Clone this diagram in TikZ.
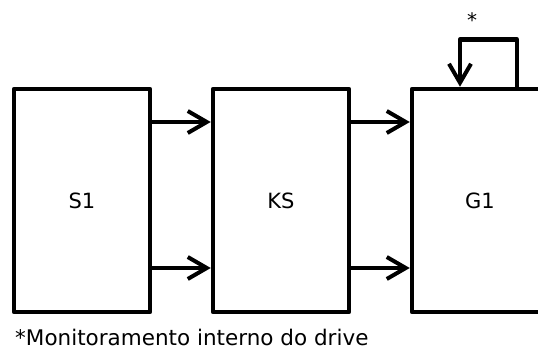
\documentclass[tikz,border=0pt]{standalone}
\usepackage{fontspec}
\setmainfont{DejaVu Sans}
\usetikzlibrary{arrows.meta,calc}
\begin{document}
\begin{tikzpicture}[x=1pt,y=-1pt,
  blockbox/.style={draw,line width=4.5pt,line join=round,minimum width=136pt,minimum height=223pt,inner sep=0pt,font=\fontsize{21}{25}\selectfont},
  conn/.style={line width=4.5pt,-{Straight Barb[length=19pt,width=22pt,line width=4pt]}}]
\useasboundingbox (0,0) rectangle (538,350);
\node[blockbox] (S1) at (82,200.5) {S1};
\node[blockbox] (KS) at (281,200.5) {KS};
\node[blockbox] (G1) at (480,200.5) {G1};
\draw[conn] ([yshift=78.5pt]S1.east) -- ([yshift=78.5pt]KS.west);
\draw[conn] ([yshift=-67.5pt]S1.east) -- ([yshift=-67.5pt]KS.west);
\draw[conn] ([yshift=78.5pt]KS.east) -- ([yshift=78.5pt]G1.west);
\draw[conn] ([yshift=-67.5pt]KS.east) -- ([yshift=-67.5pt]G1.west);
\coordinate (loopA) at ($(G1.north)+(37,0)$);
\coordinate (loopB) at ($(G1.north)+(-20,0)$);
\draw[conn,line join=round] (loopA) -- ++(0,-47) -| (loopB);
\node[font=\fontsize{20}{24}\selectfont] (star) at (472,20) {*};
\node[anchor=west,inner sep=0pt,font=\fontsize{21.5}{25}\selectfont] (note) at (15,337) {*Monitoramento interno do drive};
\end{tikzpicture}
\end{document}
